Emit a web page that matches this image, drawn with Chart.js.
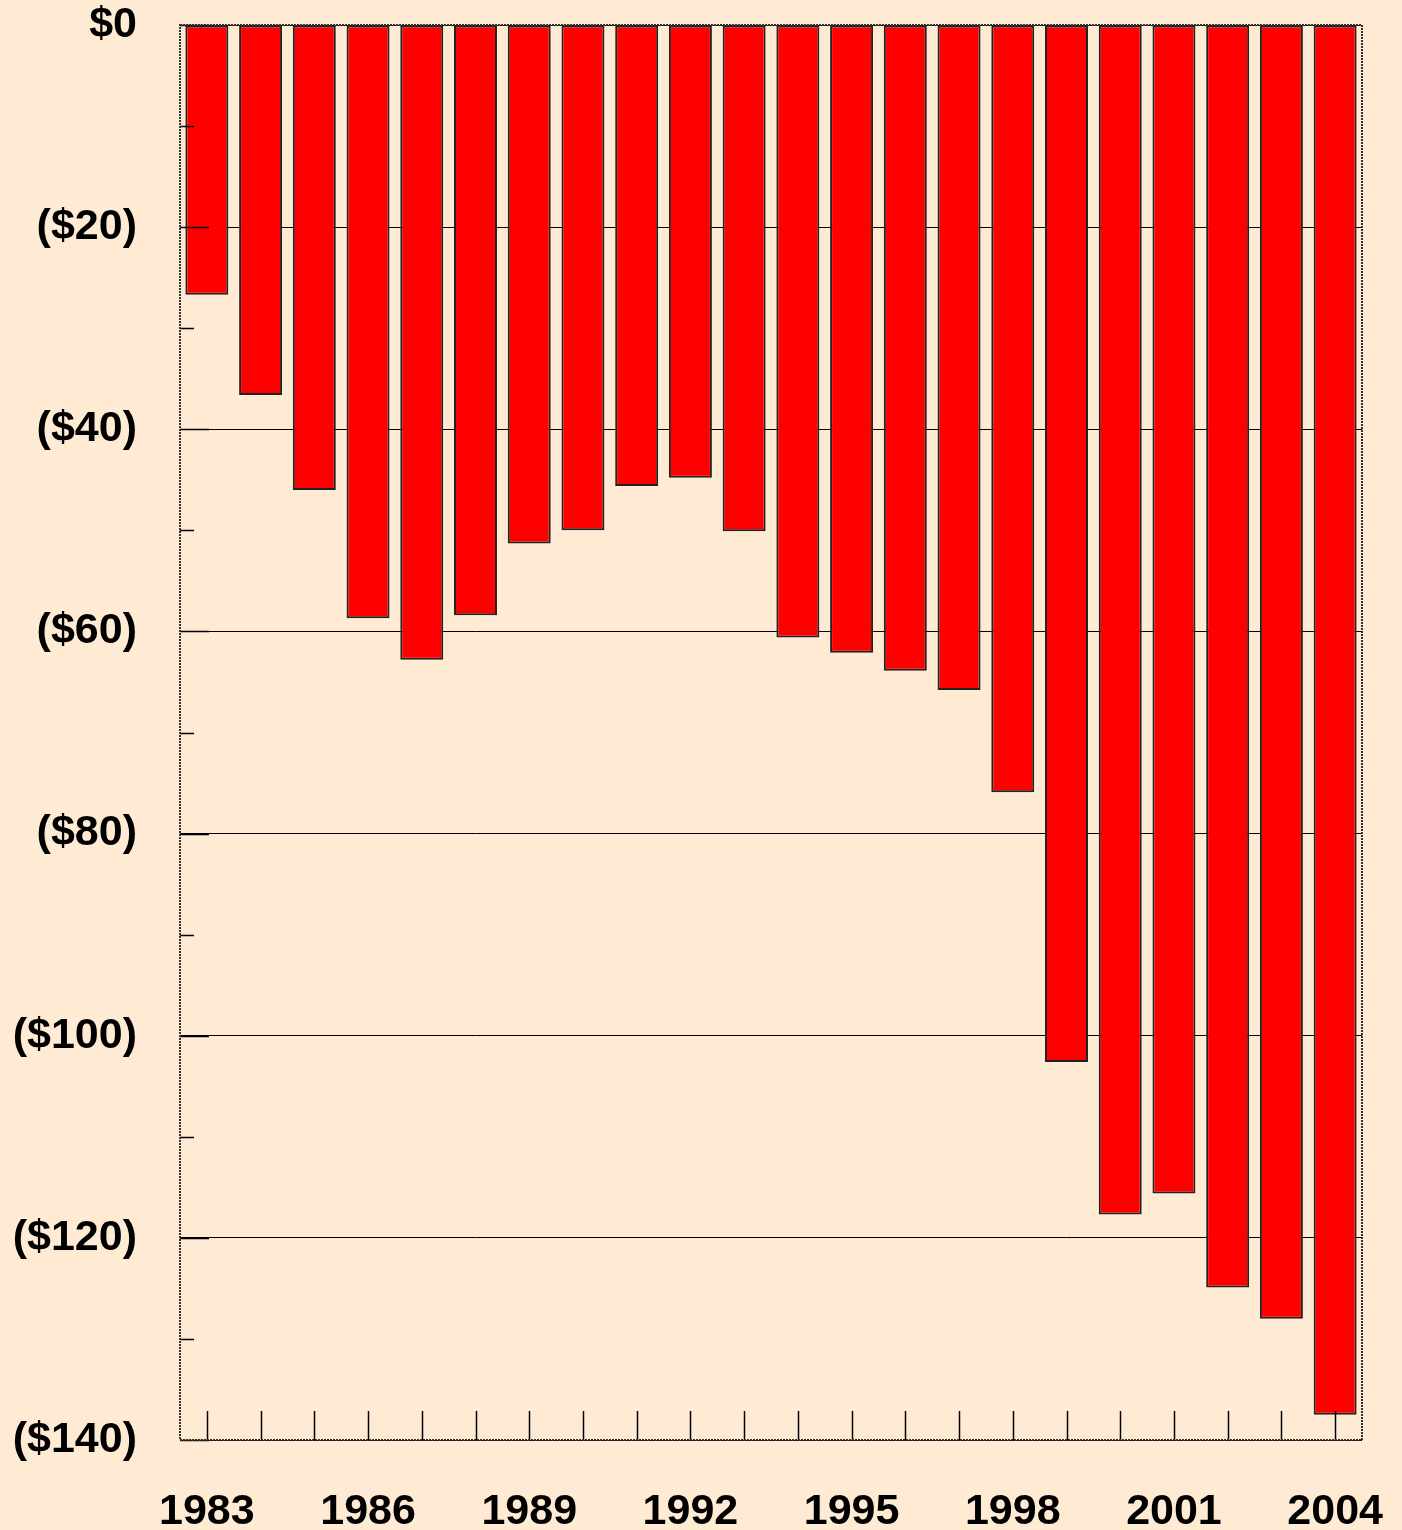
<!DOCTYPE html>
<html>
<head>
<meta charset="utf-8">
<script src="https://cdn.jsdelivr.net/npm/chart.js@4/dist/chart.umd.min.js"></script>
<style>
  html, body { margin: 0; padding: 0; background: #FFEBD4; }
  #wrap { width: 1402px; height: 1530px; }
</style>
</head>
<body>
<div id="wrap"><canvas id="barChart" width="1402" height="1530"></canvas></div>
<script>
// chart data
var years = ['1983', '1984', '1985', '1986', '1987', '1988', '1989', '1990', '1991', '1992', '1993',
             '1994', '1995', '1996', '1997', '1998', '1999', '2000', '2001', '2002', '2003', '2004']
var balance = [-26.7, -36.6, -46.0, -58.7, -62.8, -58.4, -51.3, -50.0, -45.6, -44.8, -50.1,
               -60.6, -62.1, -63.9, -65.8, -75.9, -102.6, -117.7, -115.6, -124.9, -128.0, -137.5]
var yTicks = [0, -20, -40, -60, -80, -100, -120, -140]

var fontFamily = '"Liberation Sans", Arial, Helvetica, sans-serif'

function money(v) {
  return v === 0 ? '$0' : '($' + Math.abs(v) + ')'
}

// tick marks inside the plot + dotted frame
var innerTicks = {
  id: 'innerTicks',
  afterDatasetsDraw: function (chart) {
    var ctx = chart.ctx
    var area = chart.chartArea
    var x = chart.scales.x
    var y = chart.scales.y
    ctx.save()
    ctx.strokeStyle = '#000'
    ctx.lineWidth = 1.5
    ctx.beginPath()
    for (var i = 0; i < years.length; i++) {
      var px = Math.round(x.getPixelForValue(i)) + 0.5
      ctx.moveTo(px, area.bottom - 29)
      ctx.lineTo(px, area.bottom)
    }
    for (var v = 0; v >= -140; v -= 10) {
      var py = Math.round(y.getPixelForValue(v)) + 0.5
      var len = (v % 20 === 0) ? 29 : 14
      ctx.moveTo(area.left, py)
      ctx.lineTo(area.left + len, py)
    }
    ctx.stroke()

    ctx.strokeStyle = '#333'
    ctx.lineWidth = 2
    ctx.setLineDash([2, 1])
    ctx.strokeRect(area.left, area.top, area.right - area.left, area.bottom - area.top)
    ctx.restore()
  }
}

var barCanvas = document.getElementById('barChart').getContext('2d')
var barChart = new Chart(barCanvas, {
  type: 'bar',
  data: {
    labels: years,
    datasets: [{
      data: balance,
      backgroundColor: '#FF0000',
      borderColor: '#222',
      borderWidth: 2,
      borderSkipped: false,
      barPercentage: 0.8,
      categoryPercentage: 1.0
    }]
  },
  options: {
    responsive: false,
    animation: false,
    layout: { padding: { top: 25, right: 40, left: 0, bottom: 0 } },
    plugins: {
      legend: { display: false },
      tooltip: { enabled: false }
    },
    scales: {
      x: {
        grid: { display: false },
        border: { display: false },
        ticks: {
          autoSkip: false,
          maxRotation: 0,
          padding: 38,
          color: '#000',
          font: { family: fontFamily, size: 43, weight: 'bold' },
          callback: function (val, idx) { return idx % 3 === 0 ? years[idx] : '' }
        },
        afterFit: function (scale) {
          scale.height = 90
          scale.paddingLeft = 0
          scale.paddingRight = 0
          scale.paddingTop = 0
          scale.paddingBottom = 0
        }
      },
      y: {
        min: -140,
        max: 0,
        grid: {
          drawTicks: false,
          lineWidth: 1,
          color: function (c) { return c.tick.value % 20 === 0 ? '#000' : 'rgba(0,0,0,0)' }
        },
        border: { display: false },
        ticks: {
          stepSize: 10,
          padding: 43,
          color: '#000',
          font: { family: fontFamily, size: 43, weight: 'bold' },
          callback: function (val) { return yTicks.indexOf(val) >= 0 ? money(val) : '' }
        },
        afterFit: function (scale) {
          scale.width = 180
          scale.paddingLeft = 0
          scale.paddingRight = 0
          scale.paddingTop = 0
          scale.paddingBottom = 0
        }
      }
    }
  },
  plugins: [innerTicks]
})
</script>
</body>
</html>
